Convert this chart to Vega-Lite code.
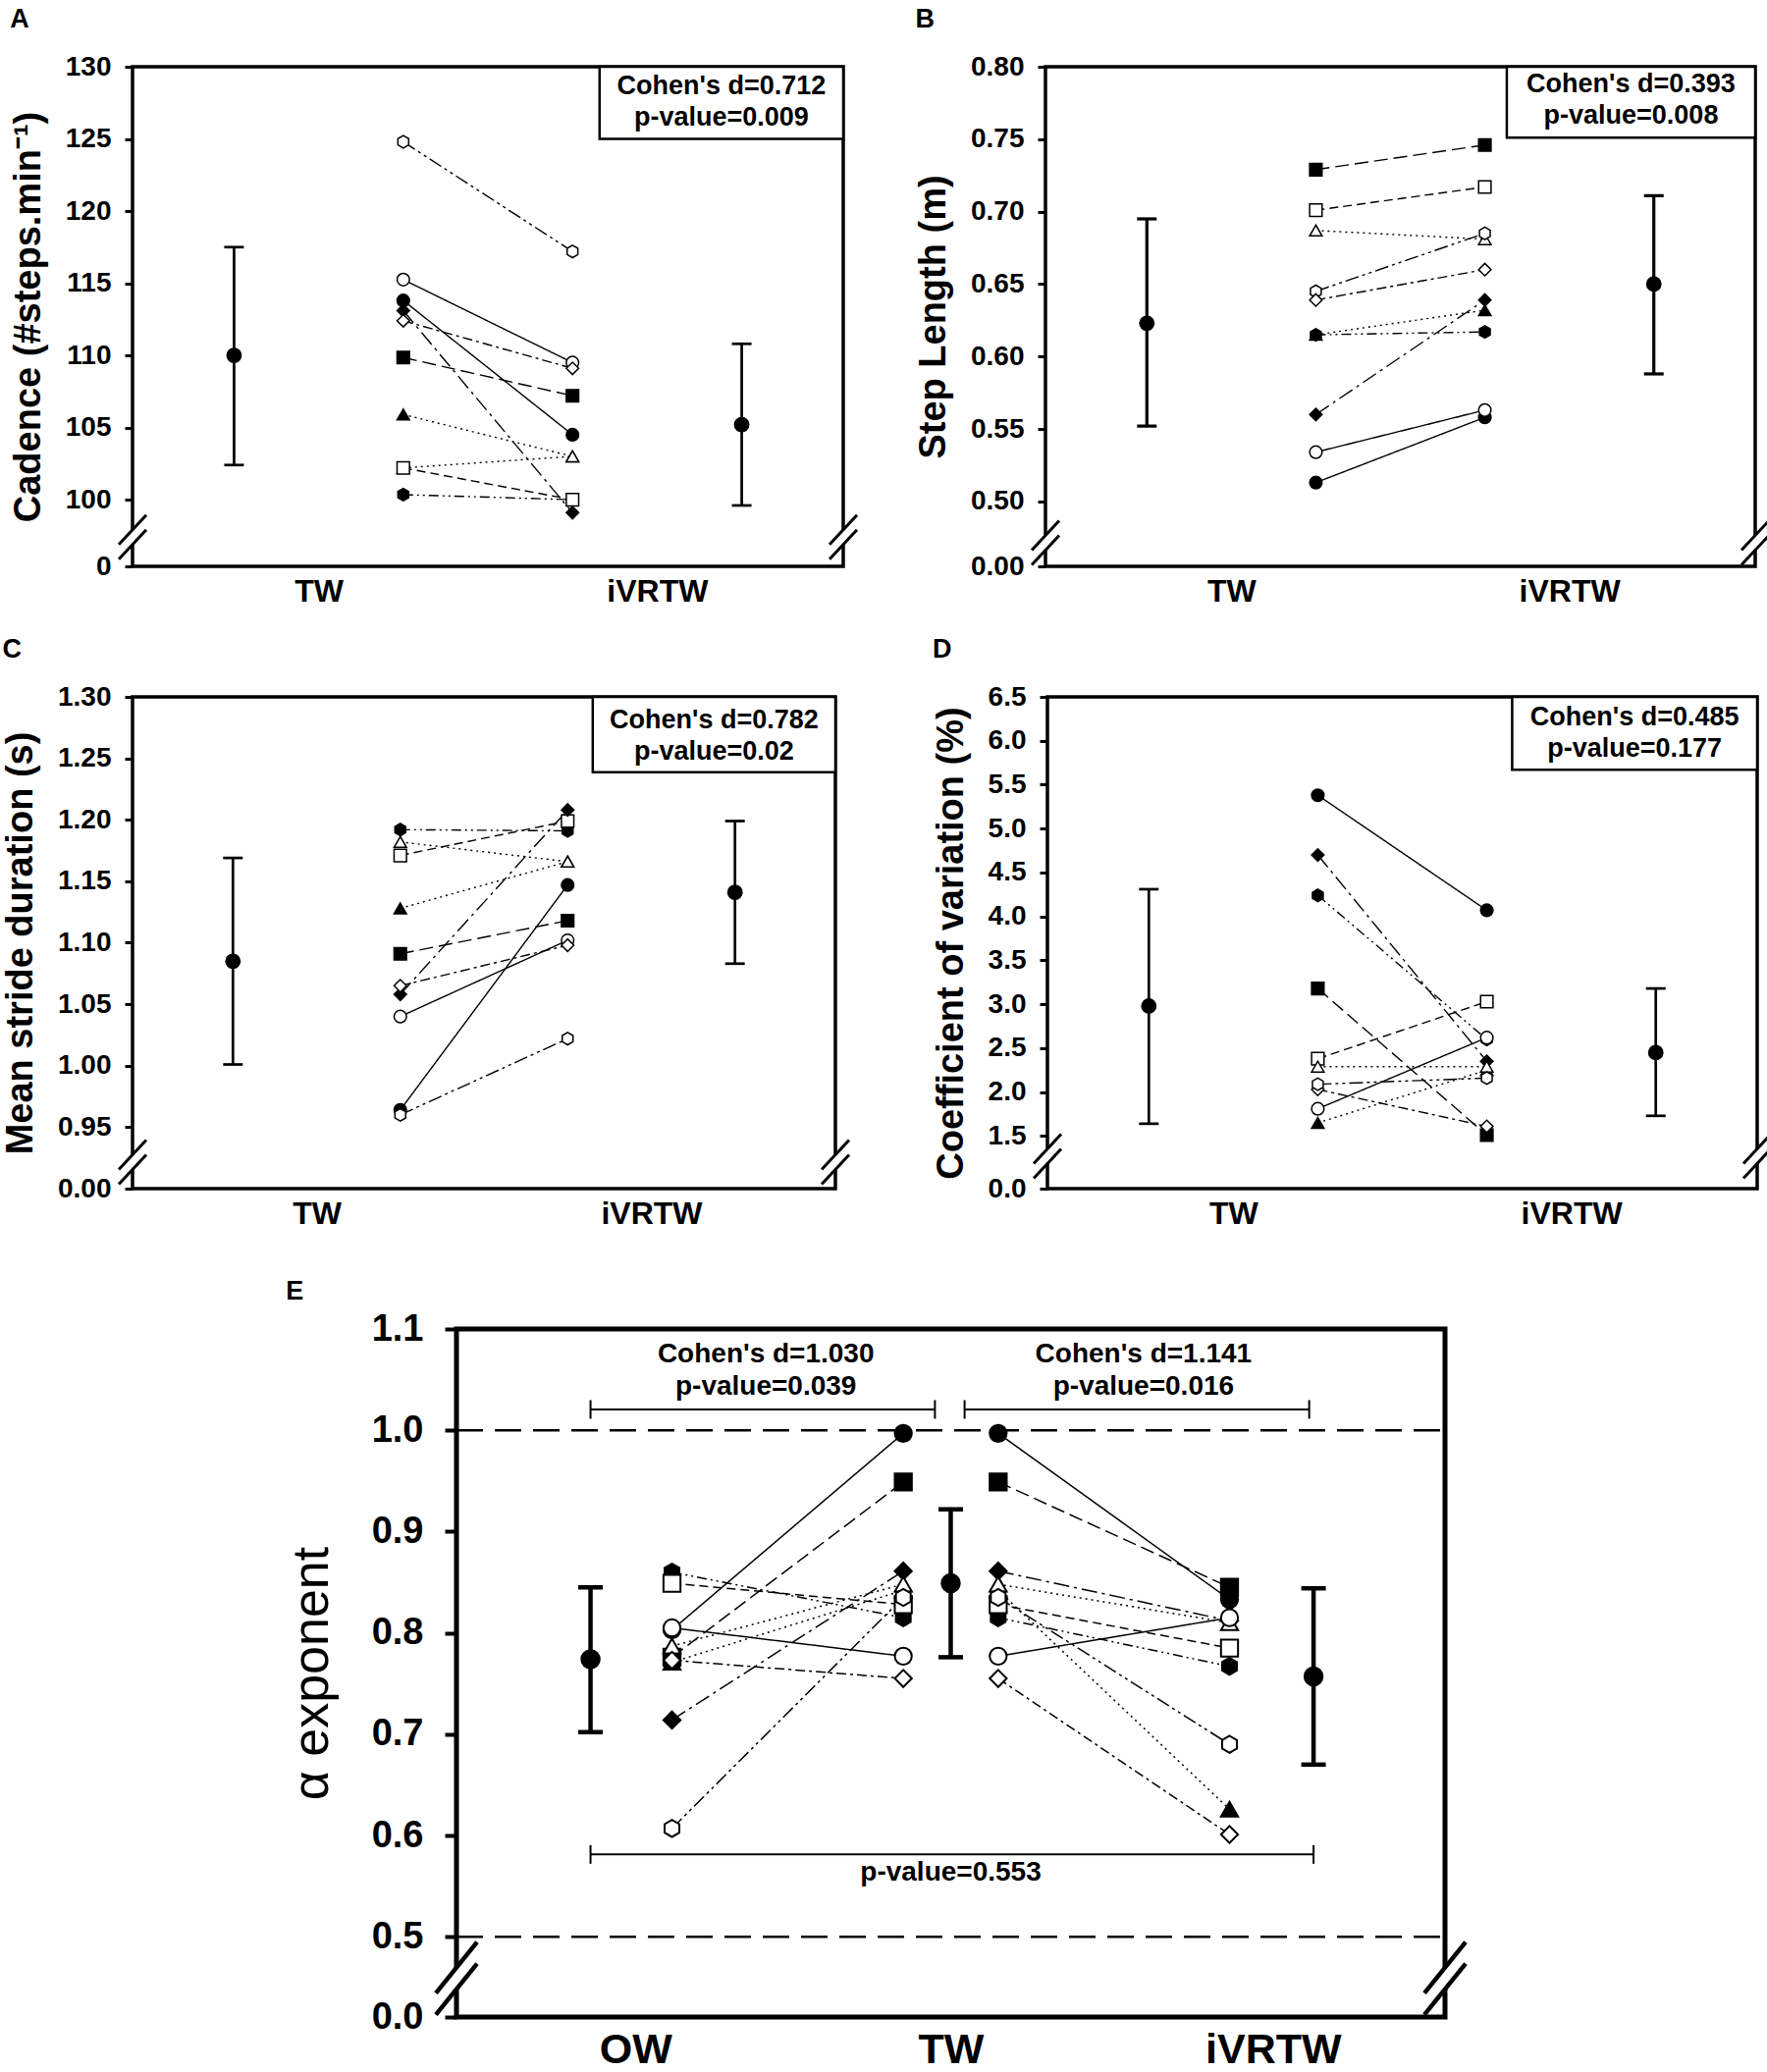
{
  "$schema": "https://vega.github.io/schema/vega-lite/v6.json",
  "padding": {"left": 0, "top": 4, "right": 0, "bottom": 0},
  "spacing": 45,
  "resolve": {"scale": {"x": "independent", "y": "independent"}},
  "vconcat": [
    {
      "spacing": 26,
      "resolve": {"scale": {"x": "independent", "y": "independent"}},
      "vconcat": [
        {
          "spacing": 53,
          "resolve": {"scale": {"x": "independent", "y": "independent"}},
          "hconcat": [
            {
              "width": 724, "height": 509,
              "title": {"text": "A", "offset": 20},
              "view": {"stroke": "black", "strokeWidth": 3.5},
              "encoding": {
                "x": {"field": "x", "type": "quantitative", "scale": {"domain": [0.4, 4.6], "nice": false, "zero": false},
                      "axis": {"values": [1.5, 3.5], "labelExpr": "datum.value < 2 ? 'TW' : 'iVRTW'", "title": null}},
                "y": {"field": "y", "type": "quantitative", "scale": {"domain": [95.38, 130], "nice": false, "zero": false},
                      "axis": {"values": [95.38, 100, 105, 110, 115, 120, 125, 130], "format": "d", "labelExpr": "datum.value < 99 ? '0' : datum.label", "title": "Cadence (#steps.min⁻¹)"}}
              },
              "layer": [
                {"data": {"name": "A_ind"}, "mark": {"type": "line", "color": "black", "strokeWidth": 1.4},
                 "encoding": {"strokeDash": {"field": "s", "type": "nominal", "scale": {"domain": ["S1","S2","S3","S4","S5","S6","S7","S8","S9","S10"], "range": [[1,0],[1,0],[14,6],[9,5],[2,4],[2,4],[16,5,3,5],[10,4,3,4],[14,4,3,4,3,4],[10,4,2,4,2,4]]}, "legend": null}}},
                {"data": {"name": "A_err"}, "mark": {"type": "rule", "color": "black", "strokeWidth": 2.7}, "encoding": {"y2": {"field": "y2"}}},
                {"data": {"name": "A_cap"}, "mark": {"type": "tick", "orient": "horizontal", "size": 20, "thickness": 2.7, "color": "black", "opacity": 1}},
                {"data": {"name": "A_mean"}, "mark": {"type": "circle", "size": 250, "color": "black", "opacity": 1}},
                {"data": {"name": "A_ind"}, "mark": {"type": "point", "filled": true, "size": 160, "stroke": "black", "strokeWidth": 1.5, "opacity": 1},
                 "encoding": {
                   "shape": {"field": "s", "type": "nominal", "scale": {"domain": ["S1","S2","S3","S4","S5","S6","S7","S8","S9","S10"], "range": ["circle","circle","square","square","triangle-up","triangle-up","diamond","diamond","M0,-1L0.866,-0.5L0.866,0.5L0,1L-0.866,0.5L-0.866,-0.5Z","M0,-1L0.866,-0.5L0.866,0.5L0,1L-0.866,0.5L-0.866,-0.5Z"]}, "legend": null},
                   "fill": {"field": "s", "type": "nominal", "scale": {"domain": ["S1","S2","S3","S4","S5","S6","S7","S8","S9","S10"], "range": ["black","white","black","white","black","white","black","white","white","black"]}, "legend": null}}},
                {"data": {"name": "A_box"}, "mark": {"type": "rect", "fill": "white", "stroke": "black", "strokeWidth": 2.5}, "encoding": {"x2": {"field": "x2"}, "y2": {"field": "y2"}}},
                {"data": {"name": "A_txt"}, "mark": {"type": "text", "fontSize": 27, "fontWeight": "bold", "color": "black"}, "encoding": {"text": {"field": "t"}}},
                {"data": {"name": "A_brk"}, "mark": {"type": "rule", "color": "white", "strokeWidth": 9, "xOffset": -10, "x2Offset": 10, "yOffset": 10.7, "y2Offset": -10.7}, "encoding": {"x2": {"field": "x"}, "y2": {"field": "y"}}},
                {"data": {"name": "A_brk"}, "mark": {"type": "rule", "color": "black", "strokeWidth": 3, "xOffset": -14, "x2Offset": 14, "yOffset": 7.5, "y2Offset": -22.5}, "encoding": {"x2": {"field": "x"}, "y2": {"field": "y"}}},
                {"data": {"name": "A_brk"}, "mark": {"type": "rule", "color": "black", "strokeWidth": 3, "xOffset": -14, "x2Offset": 14, "yOffset": 22.5, "y2Offset": -7.5}, "encoding": {"x2": {"field": "x"}, "y2": {"field": "y"}}}
              ]
            },
            {
              "width": 723, "height": 509,
              "title": {"text": "B", "offset": 20},
              "view": {"stroke": "black", "strokeWidth": 3.5},
              "encoding": {
                "x": {"field": "x", "type": "quantitative", "scale": {"domain": [0.4, 4.6], "nice": false, "zero": false},
                      "axis": {"values": [1.5, 3.5], "labelExpr": "datum.value < 2 ? 'TW' : 'iVRTW'", "title": null}},
                "y": {"field": "y", "type": "quantitative", "scale": {"domain": [0.4552, 0.8], "nice": false, "zero": false},
                      "axis": {"values": [0.4552, 0.5, 0.55, 0.6, 0.65, 0.7, 0.75, 0.8], "format": ".2f", "labelExpr": "datum.value < 0.47 ? '0.00' : datum.label", "title": "Step Length (m)"}}
              },
              "layer": [
                {"data": {"name": "B_ind"}, "mark": {"type": "line", "color": "black", "strokeWidth": 1.4},
                 "encoding": {"strokeDash": {"field": "s", "type": "nominal", "scale": {"domain": ["S1","S2","S3","S4","S5","S6","S7","S8","S9","S10"], "range": [[1,0],[1,0],[14,6],[9,5],[2,4],[2,4],[16,5,3,5],[10,4,3,4],[14,4,3,4,3,4],[10,4,2,4,2,4]]}, "legend": null}}},
                {"data": {"name": "B_err"}, "mark": {"type": "rule", "color": "black", "strokeWidth": 3.2}, "encoding": {"y2": {"field": "y2"}}},
                {"data": {"name": "B_cap"}, "mark": {"type": "tick", "orient": "horizontal", "size": 20, "thickness": 3.2, "color": "black", "opacity": 1}},
                {"data": {"name": "B_mean"}, "mark": {"type": "circle", "size": 250, "color": "black", "opacity": 1}},
                {"data": {"name": "B_ind"}, "mark": {"type": "point", "filled": true, "size": 160, "stroke": "black", "strokeWidth": 1.5, "opacity": 1},
                 "encoding": {
                   "shape": {"field": "s", "type": "nominal", "scale": {"domain": ["S1","S2","S3","S4","S5","S6","S7","S8","S9","S10"], "range": ["circle","circle","square","square","triangle-up","triangle-up","diamond","diamond","M0,-1L0.866,-0.5L0.866,0.5L0,1L-0.866,0.5L-0.866,-0.5Z","M0,-1L0.866,-0.5L0.866,0.5L0,1L-0.866,0.5L-0.866,-0.5Z"]}, "legend": null},
                   "fill": {"field": "s", "type": "nominal", "scale": {"domain": ["S1","S2","S3","S4","S5","S6","S7","S8","S9","S10"], "range": ["black","white","black","white","black","white","black","white","white","black"]}, "legend": null}}},
                {"data": {"name": "B_box"}, "mark": {"type": "rect", "fill": "white", "stroke": "black", "strokeWidth": 2.5}, "encoding": {"x2": {"field": "x2"}, "y2": {"field": "y2"}}},
                {"data": {"name": "B_txt"}, "mark": {"type": "text", "fontSize": 27, "fontWeight": "bold", "color": "black"}, "encoding": {"text": {"field": "t"}}},
                {"data": {"name": "B_brk"}, "mark": {"type": "rule", "color": "white", "strokeWidth": 9, "xOffset": -10, "x2Offset": 10, "yOffset": 10.7, "y2Offset": -10.7}, "encoding": {"x2": {"field": "x"}, "y2": {"field": "y"}}},
                {"data": {"name": "B_brk"}, "mark": {"type": "rule", "color": "black", "strokeWidth": 3, "xOffset": -14, "x2Offset": 14, "yOffset": 7.5, "y2Offset": -22.5}, "encoding": {"x2": {"field": "x"}, "y2": {"field": "y"}}},
                {"data": {"name": "B_brk"}, "mark": {"type": "rule", "color": "black", "strokeWidth": 3, "xOffset": -14, "x2Offset": 14, "yOffset": 22.5, "y2Offset": -7.5}, "encoding": {"x2": {"field": "x"}, "y2": {"field": "y"}}}
              ]
            }
          ]
        },
        {
          "spacing": 79,
          "resolve": {"scale": {"x": "independent", "y": "independent"}},
          "hconcat": [
            {
              "width": 716, "height": 501,
              "title": {"text": "C", "offset": 20},
              "view": {"stroke": "black", "strokeWidth": 3.5},
              "encoding": {
                "x": {"field": "x", "type": "quantitative", "scale": {"domain": [0.4, 4.6], "nice": false, "zero": false},
                      "axis": {"values": [1.5, 3.5], "labelExpr": "datum.value < 2 ? 'TW' : 'iVRTW'", "title": null}},
                "y": {"field": "y", "type": "quantitative", "scale": {"domain": [0.9, 1.3], "nice": false, "zero": false},
                      "axis": {"values": [0.9, 0.95, 1.0, 1.05, 1.1, 1.15, 1.2, 1.25, 1.3], "format": ".2f", "labelExpr": "datum.value < 0.92 ? '0.00' : datum.label", "title": "Mean stride duration (s)"}}
              },
              "layer": [
                {"data": {"name": "C_ind"}, "mark": {"type": "line", "color": "black", "strokeWidth": 1.4},
                 "encoding": {"strokeDash": {"field": "s", "type": "nominal", "scale": {"domain": ["S1","S2","S3","S4","S5","S6","S7","S8","S9","S10"], "range": [[1,0],[1,0],[14,6],[9,5],[2,4],[2,4],[16,5,3,5],[10,4,3,4],[14,4,3,4,3,4],[10,4,2,4,2,4]]}, "legend": null}}},
                {"data": {"name": "C_err"}, "mark": {"type": "rule", "color": "black", "strokeWidth": 2.7}, "encoding": {"y2": {"field": "y2"}}},
                {"data": {"name": "C_cap"}, "mark": {"type": "tick", "orient": "horizontal", "size": 20, "thickness": 2.7, "color": "black", "opacity": 1}},
                {"data": {"name": "C_mean"}, "mark": {"type": "circle", "size": 250, "color": "black", "opacity": 1}},
                {"data": {"name": "C_ind"}, "mark": {"type": "point", "filled": true, "size": 160, "stroke": "black", "strokeWidth": 1.5, "opacity": 1},
                 "encoding": {
                   "shape": {"field": "s", "type": "nominal", "scale": {"domain": ["S1","S2","S3","S4","S5","S6","S7","S8","S9","S10"], "range": ["circle","circle","square","square","triangle-up","triangle-up","diamond","diamond","M0,-1L0.866,-0.5L0.866,0.5L0,1L-0.866,0.5L-0.866,-0.5Z","M0,-1L0.866,-0.5L0.866,0.5L0,1L-0.866,0.5L-0.866,-0.5Z"]}, "legend": null},
                   "fill": {"field": "s", "type": "nominal", "scale": {"domain": ["S1","S2","S3","S4","S5","S6","S7","S8","S9","S10"], "range": ["black","white","black","white","black","white","black","white","white","black"]}, "legend": null}}},
                {"data": {"name": "C_box"}, "mark": {"type": "rect", "fill": "white", "stroke": "black", "strokeWidth": 2.5}, "encoding": {"x2": {"field": "x2"}, "y2": {"field": "y2"}}},
                {"data": {"name": "C_txt"}, "mark": {"type": "text", "fontSize": 27, "fontWeight": "bold", "color": "black"}, "encoding": {"text": {"field": "t"}}},
                {"data": {"name": "C_brk"}, "mark": {"type": "rule", "color": "white", "strokeWidth": 9, "xOffset": -10, "x2Offset": 10, "yOffset": 10.7, "y2Offset": -10.7}, "encoding": {"x2": {"field": "x"}, "y2": {"field": "y"}}},
                {"data": {"name": "C_brk"}, "mark": {"type": "rule", "color": "black", "strokeWidth": 3, "xOffset": -14, "x2Offset": 14, "yOffset": 7.5, "y2Offset": -22.5}, "encoding": {"x2": {"field": "x"}, "y2": {"field": "y"}}},
                {"data": {"name": "C_brk"}, "mark": {"type": "rule", "color": "black", "strokeWidth": 3, "xOffset": -14, "x2Offset": 14, "yOffset": 22.5, "y2Offset": -7.5}, "encoding": {"x2": {"field": "x"}, "y2": {"field": "y"}}}
              ]
            },
            {
              "width": 723, "height": 501,
              "title": {"text": "D", "offset": 20},
              "view": {"stroke": "black", "strokeWidth": 3.5},
              "encoding": {
                "x": {"field": "x", "type": "quantitative", "scale": {"domain": [0.4, 4.6], "nice": false, "zero": false},
                      "axis": {"values": [1.5, 3.5], "labelExpr": "datum.value < 2 ? 'TW' : 'iVRTW'", "title": null}},
                "y": {"field": "y", "type": "quantitative", "scale": {"domain": [0.901, 6.5], "nice": false, "zero": false},
                      "axis": {"values": [0.901, 1.5, 2.0, 2.5, 3.0, 3.5, 4.0, 4.5, 5.0, 5.5, 6.0, 6.5], "format": ".1f", "labelExpr": "datum.value < 1 ? '0.0' : datum.label", "title": "Coefficient of variation (%)"}}
              },
              "layer": [
                {"data": {"name": "D_ind"}, "mark": {"type": "line", "color": "black", "strokeWidth": 1.4},
                 "encoding": {"strokeDash": {"field": "s", "type": "nominal", "scale": {"domain": ["S1","S2","S3","S4","S5","S6","S7","S8","S9","S10"], "range": [[1,0],[1,0],[14,6],[9,5],[2,4],[2,4],[16,5,3,5],[10,4,3,4],[14,4,3,4,3,4],[10,4,2,4,2,4]]}, "legend": null}}},
                {"data": {"name": "D_err"}, "mark": {"type": "rule", "color": "black", "strokeWidth": 2.7}, "encoding": {"y2": {"field": "y2"}}},
                {"data": {"name": "D_cap"}, "mark": {"type": "tick", "orient": "horizontal", "size": 20, "thickness": 2.7, "color": "black", "opacity": 1}},
                {"data": {"name": "D_mean"}, "mark": {"type": "circle", "size": 250, "color": "black", "opacity": 1}},
                {"data": {"name": "D_ind"}, "mark": {"type": "point", "filled": true, "size": 160, "stroke": "black", "strokeWidth": 1.5, "opacity": 1},
                 "encoding": {
                   "shape": {"field": "s", "type": "nominal", "scale": {"domain": ["S1","S2","S3","S4","S5","S6","S7","S8","S9","S10"], "range": ["circle","circle","square","square","triangle-up","triangle-up","diamond","diamond","M0,-1L0.866,-0.5L0.866,0.5L0,1L-0.866,0.5L-0.866,-0.5Z","M0,-1L0.866,-0.5L0.866,0.5L0,1L-0.866,0.5L-0.866,-0.5Z"]}, "legend": null},
                   "fill": {"field": "s", "type": "nominal", "scale": {"domain": ["S1","S2","S3","S4","S5","S6","S7","S8","S9","S10"], "range": ["black","white","black","white","black","white","black","white","white","black"]}, "legend": null}}},
                {"data": {"name": "D_box"}, "mark": {"type": "rect", "fill": "white", "stroke": "black", "strokeWidth": 2.5}, "encoding": {"x2": {"field": "x2"}, "y2": {"field": "y2"}}},
                {"data": {"name": "D_txt"}, "mark": {"type": "text", "fontSize": 27, "fontWeight": "bold", "color": "black"}, "encoding": {"text": {"field": "t"}}},
                {"data": {"name": "D_brk"}, "mark": {"type": "rule", "color": "white", "strokeWidth": 9, "xOffset": -10, "x2Offset": 10, "yOffset": 10.7, "y2Offset": -10.7}, "encoding": {"x2": {"field": "x"}, "y2": {"field": "y"}}},
                {"data": {"name": "D_brk"}, "mark": {"type": "rule", "color": "black", "strokeWidth": 3, "xOffset": -14, "x2Offset": 14, "yOffset": 7.5, "y2Offset": -22.5}, "encoding": {"x2": {"field": "x"}, "y2": {"field": "y"}}},
                {"data": {"name": "D_brk"}, "mark": {"type": "rule", "color": "black", "strokeWidth": 3, "xOffset": -14, "x2Offset": 14, "yOffset": 22.5, "y2Offset": -7.5}, "encoding": {"x2": {"field": "x"}, "y2": {"field": "y"}}}
              ]
            }
          ]
        }
      ]
    },
    {
      "spacing": 0,
      "resolve": {"scale": {"x": "independent", "y": "independent"}},
      "hconcat": [
        {
          "width": 153, "height": 10,
          "data": {"values": [{"a": 1}]},
          "mark": {"type": "text", "text": ""},
          "encoding": {},
          "view": {"stroke": null}
        },
        {
          "width": 1007, "height": 701,
          "title": {"text": "E", "offset": 5},
          "view": {"stroke": "black", "strokeWidth": 5},
          "encoding": {
            "x": {"field": "x", "type": "quantitative", "scale": {"domain": [0, 1], "nice": false, "zero": false},
                  "axis": {"values": [0.181, 0.5, 0.826], "labelExpr": "datum.value < 0.3 ? 'OW' : datum.value < 0.7 ? 'TW' : 'iVRTW'", "title": null, "labelFontSize": 43, "labelPadding": 12}},
            "y": {"field": "y", "type": "quantitative", "scale": {"domain": [0.4208, 1.1], "nice": false, "zero": false},
                  "axis": {"values": [0.4208, 0.5, 0.6, 0.7, 0.8, 0.9, 1.0, 1.1], "format": ".1f", "labelExpr": "datum.value < 0.45 ? '0.0' : datum.label", "title": "α exponent", "labelFontSize": 38, "tickSize": 12, "tickWidth": 4, "labelPadding": 22, "titleFontSize": 52, "titleFontWeight": "normal", "titlePadding": 34}}
          },
          "layer": [
            {"data": {"name": "E_ref"}, "mark": {"type": "rule", "color": "black", "strokeWidth": 2.5, "strokeDash": [27, 12]}, "encoding": {"x2": {"field": "x2"}}},
            {"data": {"name": "E_ind"}, "mark": {"type": "line", "color": "black", "strokeWidth": 1.5},
             "encoding": {
               "detail": {"field": "g"},
               "strokeDash": {"field": "s", "type": "nominal", "scale": {"domain": ["S1","S2","S3","S4","S5","S6","S7","S8","S9","S10"], "range": [[1,0],[1,0],[16,7],[10,6],[2,5],[2,5],[18,6,3,6],[12,5,3,5],[16,5,3,5,3,5],[12,5,2,5,2,5]]}, "legend": null}}},
            {"data": {"name": "E_br"}, "mark": {"type": "rule", "color": "black", "strokeWidth": 2}, "encoding": {"x2": {"field": "x2"}}},
            {"data": {"name": "E_brt"}, "mark": {"type": "tick", "orient": "vertical", "size": 19, "thickness": 2, "color": "black", "opacity": 1}},
            {"data": {"name": "E_err"}, "mark": {"type": "rule", "color": "black", "strokeWidth": 4.5}, "encoding": {"y2": {"field": "y2"}}},
            {"data": {"name": "E_cap"}, "mark": {"type": "tick", "orient": "horizontal", "size": 25, "thickness": 4.5, "color": "black", "opacity": 1}},
            {"data": {"name": "E_mean"}, "mark": {"type": "circle", "size": 420, "color": "black", "opacity": 1}},
            {"data": {"name": "E_ind"}, "mark": {"type": "point", "filled": true, "size": 300, "stroke": "black", "strokeWidth": 2, "opacity": 1},
             "encoding": {
               "shape": {"field": "s", "type": "nominal", "scale": {"domain": ["S1","S2","S3","S4","S5","S6","S7","S8","S9","S10"], "range": ["circle","circle","square","square","triangle-up","triangle-up","diamond","diamond","M0,-1L0.866,-0.5L0.866,0.5L0,1L-0.866,0.5L-0.866,-0.5Z","M0,-1L0.866,-0.5L0.866,0.5L0,1L-0.866,0.5L-0.866,-0.5Z"]}, "legend": null},
               "fill": {"field": "s", "type": "nominal", "scale": {"domain": ["S1","S2","S3","S4","S5","S6","S7","S8","S9","S10"], "range": ["black","white","black","white","black","white","black","white","white","black"]}, "legend": null}}},
            {"data": {"name": "E_txt"}, "mark": {"type": "text", "fontSize": 28, "fontWeight": "bold", "color": "black"}, "encoding": {"text": {"field": "t"}}},
            {"data": {"name": "E_brk"}, "mark": {"type": "rule", "color": "white", "strokeWidth": 12, "xOffset": -14, "x2Offset": 14, "yOffset": 17, "y2Offset": -17}, "encoding": {"x2": {"field": "x"}, "y2": {"field": "y"}}},
            {"data": {"name": "E_brk"}, "mark": {"type": "rule", "color": "black", "strokeWidth": 4.5, "xOffset": -21, "x2Offset": 21, "yOffset": 15, "y2Offset": -37}, "encoding": {"x2": {"field": "x"}, "y2": {"field": "y"}}},
            {"data": {"name": "E_brk"}, "mark": {"type": "rule", "color": "black", "strokeWidth": 4.5, "xOffset": -21, "x2Offset": 21, "yOffset": 37, "y2Offset": -15}, "encoding": {"x2": {"field": "x"}, "y2": {"field": "y"}}}
          ]
        }
      ]
    }
  ],
  "datasets": {
    "A_ind": [
      {"s": "S10", "x": 2, "y": 100.35}, {"s": "S10", "x": 3, "y": 100.0},
      {"s": "S1", "x": 2, "y": 113.8}, {"s": "S1", "x": 3, "y": 104.5},
      {"s": "S2", "x": 2, "y": 115.25}, {"s": "S2", "x": 3, "y": 109.5},
      {"s": "S3", "x": 2, "y": 109.85}, {"s": "S3", "x": 3, "y": 107.2},
      {"s": "S5", "x": 2, "y": 105.9}, {"s": "S5", "x": 3, "y": 103.0},
      {"s": "S6", "x": 2, "y": 102.2}, {"s": "S6", "x": 3, "y": 103.0},
      {"s": "S4", "x": 2, "y": 102.2}, {"s": "S4", "x": 3, "y": 100.0},
      {"s": "S7", "x": 2, "y": 113.1}, {"s": "S7", "x": 3, "y": 99.1},
      {"s": "S8", "x": 2, "y": 112.4}, {"s": "S8", "x": 3, "y": 109.1},
      {"s": "S9", "x": 2, "y": 124.8}, {"s": "S9", "x": 3, "y": 117.2}
    ],
    "A_err": [{"x": 1, "y": 102.4, "y2": 117.5}, {"x": 4, "y": 99.6, "y2": 110.8}],
    "A_cap": [{"x": 1, "y": 102.4}, {"x": 1, "y": 117.5}, {"x": 4, "y": 99.6}, {"x": 4, "y": 110.8}],
    "A_mean": [{"x": 1, "y": 110.0}, {"x": 4, "y": 105.2}],
    "A_box": [{"x": 3.16, "x2": 4.6, "y": 125.0, "y2": 130.0}],
    "A_txt": [{"x": 3.88, "y": 128.65, "t": "Cohen's d=0.712"}, {"x": 3.88, "y": 126.45, "t": "p-value=0.009"}],
    "A_brk": [{"x": 0.4, "y": 97.4}, {"x": 4.6, "y": 97.4}],
    "B_ind": [
      {"s": "S10", "x": 2, "y": 0.615}, {"s": "S10", "x": 3, "y": 0.617},
      {"s": "S5", "x": 2, "y": 0.615}, {"s": "S5", "x": 3, "y": 0.632},
      {"s": "S1", "x": 2, "y": 0.513}, {"s": "S1", "x": 3, "y": 0.558},
      {"s": "S2", "x": 2, "y": 0.534}, {"s": "S2", "x": 3, "y": 0.563},
      {"s": "S3", "x": 2, "y": 0.729}, {"s": "S3", "x": 3, "y": 0.746},
      {"s": "S4", "x": 2, "y": 0.701}, {"s": "S4", "x": 3, "y": 0.717},
      {"s": "S6", "x": 2, "y": 0.687}, {"s": "S6", "x": 3, "y": 0.681},
      {"s": "S9", "x": 2, "y": 0.645}, {"s": "S9", "x": 3, "y": 0.685},
      {"s": "S8", "x": 2, "y": 0.639}, {"s": "S8", "x": 3, "y": 0.66},
      {"s": "S7", "x": 2, "y": 0.56}, {"s": "S7", "x": 3, "y": 0.639}
    ],
    "B_err": [{"x": 1, "y": 0.552, "y2": 0.695}, {"x": 4, "y": 0.588, "y2": 0.711}],
    "B_cap": [{"x": 1, "y": 0.552}, {"x": 1, "y": 0.695}, {"x": 4, "y": 0.588}, {"x": 4, "y": 0.711}],
    "B_mean": [{"x": 1, "y": 0.623}, {"x": 4, "y": 0.65}],
    "B_box": [{"x": 3.13, "x2": 4.6, "y": 0.751, "y2": 0.8}],
    "B_txt": [{"x": 3.865, "y": 0.788, "t": "Cohen's d=0.393"}, {"x": 3.865, "y": 0.766, "t": "p-value=0.008"}],
    "B_brk": [{"x": 0.4, "y": 0.4715}, {"x": 4.6, "y": 0.4715}],
    "C_ind": [
      {"s": "S10", "x": 2, "y": 1.192}, {"s": "S10", "x": 3, "y": 1.191},
      {"s": "S1", "x": 2, "y": 0.964}, {"s": "S1", "x": 3, "y": 1.147},
      {"s": "S9", "x": 2, "y": 0.96}, {"s": "S9", "x": 3, "y": 1.022},
      {"s": "S2", "x": 2, "y": 1.04}, {"s": "S2", "x": 3, "y": 1.102},
      {"s": "S3", "x": 2, "y": 1.091}, {"s": "S3", "x": 3, "y": 1.118},
      {"s": "S4", "x": 2, "y": 1.171}, {"s": "S4", "x": 3, "y": 1.199},
      {"s": "S5", "x": 2, "y": 1.128}, {"s": "S5", "x": 3, "y": 1.166},
      {"s": "S6", "x": 2, "y": 1.182}, {"s": "S6", "x": 3, "y": 1.166},
      {"s": "S7", "x": 2, "y": 1.058}, {"s": "S7", "x": 3, "y": 1.208},
      {"s": "S8", "x": 2, "y": 1.065}, {"s": "S8", "x": 3, "y": 1.098}
    ],
    "C_err": [{"x": 1, "y": 1.001, "y2": 1.169}, {"x": 4, "y": 1.083, "y2": 1.199}],
    "C_cap": [{"x": 1, "y": 1.001}, {"x": 1, "y": 1.169}, {"x": 4, "y": 1.083}, {"x": 4, "y": 1.199}],
    "C_mean": [{"x": 1, "y": 1.085}, {"x": 4, "y": 1.141}],
    "C_box": [{"x": 3.15, "x2": 4.6, "y": 1.2387, "y2": 1.3}],
    "C_txt": [{"x": 3.875, "y": 1.281, "t": "Cohen's d=0.782"}, {"x": 3.875, "y": 1.2555, "t": "p-value=0.02"}],
    "C_brk": [{"x": 0.4, "y": 0.9216}, {"x": 4.6, "y": 0.9216}],
    "D_ind": [
      {"s": "S7", "x": 2, "y": 4.7}, {"s": "S7", "x": 3, "y": 2.35},
      {"s": "S10", "x": 2, "y": 4.24}, {"s": "S10", "x": 3, "y": 2.6},
      {"s": "S1", "x": 2, "y": 5.38}, {"s": "S1", "x": 3, "y": 4.07},
      {"s": "S2", "x": 2, "y": 1.81}, {"s": "S2", "x": 3, "y": 2.62},
      {"s": "S3", "x": 2, "y": 3.18}, {"s": "S3", "x": 3, "y": 1.51},
      {"s": "S4", "x": 2, "y": 2.38}, {"s": "S4", "x": 3, "y": 3.03},
      {"s": "S5", "x": 2, "y": 1.65}, {"s": "S5", "x": 3, "y": 2.25},
      {"s": "S6", "x": 2, "y": 2.29}, {"s": "S6", "x": 3, "y": 2.29},
      {"s": "S8", "x": 2, "y": 2.03}, {"s": "S8", "x": 3, "y": 1.61},
      {"s": "S9", "x": 2, "y": 2.09}, {"s": "S9", "x": 3, "y": 2.16}
    ],
    "D_err": [{"x": 1, "y": 1.64, "y2": 4.31}, {"x": 4, "y": 1.73, "y2": 3.18}],
    "D_cap": [{"x": 1, "y": 1.64}, {"x": 1, "y": 4.31}, {"x": 4, "y": 1.73}, {"x": 4, "y": 3.18}],
    "D_mean": [{"x": 1, "y": 2.98}, {"x": 4, "y": 2.45}],
    "D_box": [{"x": 3.15, "x2": 4.6, "y": 5.67, "y2": 6.5}],
    "D_txt": [{"x": 3.875, "y": 6.26, "t": "Cohen's d=0.485"}, {"x": 3.875, "y": 5.91, "t": "p-value=0.177"}],
    "D_brk": [{"x": 0.4, "y": 1.27}, {"x": 4.6, "y": 1.27}],
    "E_ref": [{"x": 0, "x2": 1, "y": 1.0}, {"x": 0, "x2": 1, "y": 0.5}],
    "E_ind": [
      {"s": "S1", "g": "L", "x": 0.218, "y": 0.803}, {"s": "S1", "g": "L", "x": 0.452, "y": 0.997}, {"s": "S1", "g": "R", "x": 0.548, "y": 0.997}, {"s": "S1", "g": "R", "x": 0.782, "y": 0.833},
      {"s": "S3", "g": "L", "x": 0.218, "y": 0.776}, {"s": "S3", "g": "L", "x": 0.452, "y": 0.949}, {"s": "S3", "g": "R", "x": 0.548, "y": 0.949}, {"s": "S3", "g": "R", "x": 0.782, "y": 0.845},
      {"s": "S5", "g": "L", "x": 0.218, "y": 0.771}, {"s": "S5", "g": "L", "x": 0.452, "y": 0.842}, {"s": "S5", "g": "R", "x": 0.548, "y": 0.842}, {"s": "S5", "g": "R", "x": 0.782, "y": 0.626},
      {"s": "S10", "g": "L", "x": 0.218, "y": 0.86}, {"s": "S10", "g": "L", "x": 0.452, "y": 0.815}, {"s": "S10", "g": "R", "x": 0.548, "y": 0.815}, {"s": "S10", "g": "R", "x": 0.782, "y": 0.767},
      {"s": "S7", "g": "L", "x": 0.218, "y": 0.714}, {"s": "S7", "g": "L", "x": 0.452, "y": 0.861}, {"s": "S7", "g": "R", "x": 0.548, "y": 0.861}, {"s": "S7", "g": "R", "x": 0.782, "y": 0.812},
      {"s": "S4", "g": "L", "x": 0.218, "y": 0.849}, {"s": "S4", "g": "L", "x": 0.452, "y": 0.828}, {"s": "S4", "g": "R", "x": 0.548, "y": 0.828}, {"s": "S4", "g": "R", "x": 0.782, "y": 0.785},
      {"s": "S6", "g": "L", "x": 0.218, "y": 0.787}, {"s": "S6", "g": "L", "x": 0.452, "y": 0.848}, {"s": "S6", "g": "R", "x": 0.548, "y": 0.848}, {"s": "S6", "g": "R", "x": 0.782, "y": 0.81},
      {"s": "S9", "g": "L", "x": 0.218, "y": 0.607}, {"s": "S9", "g": "L", "x": 0.452, "y": 0.835}, {"s": "S9", "g": "R", "x": 0.548, "y": 0.835}, {"s": "S9", "g": "R", "x": 0.782, "y": 0.69},
      {"s": "S2", "g": "L", "x": 0.218, "y": 0.805}, {"s": "S2", "g": "L", "x": 0.452, "y": 0.777}, {"s": "S2", "g": "R", "x": 0.548, "y": 0.777}, {"s": "S2", "g": "R", "x": 0.782, "y": 0.815},
      {"s": "S8", "g": "L", "x": 0.218, "y": 0.773}, {"s": "S8", "g": "L", "x": 0.452, "y": 0.755}, {"s": "S8", "g": "R", "x": 0.548, "y": 0.755}, {"s": "S8", "g": "R", "x": 0.782, "y": 0.601}
    ],
    "E_err": [{"x": 0.1356, "y": 0.702, "y2": 0.845}, {"x": 0.5, "y": 0.776, "y2": 0.922}, {"x": 0.867, "y": 0.67, "y2": 0.844}],
    "E_cap": [{"x": 0.1356, "y": 0.702}, {"x": 0.1356, "y": 0.845}, {"x": 0.5, "y": 0.776}, {"x": 0.5, "y": 0.922}, {"x": 0.867, "y": 0.67}, {"x": 0.867, "y": 0.844}],
    "E_mean": [{"x": 0.1356, "y": 0.774}, {"x": 0.5, "y": 0.849}, {"x": 0.867, "y": 0.757}],
    "E_br": [{"x": 0.1356, "x2": 0.484, "y": 1.0206}, {"x": 0.514, "x2": 0.8626, "y": 1.0206}, {"x": 0.1356, "x2": 0.867, "y": 0.5813}],
    "E_brt": [{"x": 0.1356, "y": 1.0206}, {"x": 0.484, "y": 1.0206}, {"x": 0.514, "y": 1.0206}, {"x": 0.8626, "y": 1.0206}, {"x": 0.1356, "y": 0.5813}, {"x": 0.867, "y": 0.5813}],
    "E_txt": [
      {"x": 0.313, "y": 1.075, "t": "Cohen's d=1.030"}, {"x": 0.313, "y": 1.043, "t": "p-value=0.039"},
      {"x": 0.695, "y": 1.075, "t": "Cohen's d=1.141"}, {"x": 0.695, "y": 1.043, "t": "p-value=0.016"},
      {"x": 0.5, "y": 0.5636, "t": "p-value=0.553"}
    ],
    "E_brk": [{"x": 0, "y": 0.459}, {"x": 1, "y": 0.459}]
  },
  "config": {
    "font": "Liberation Sans",
    "view": {"stroke": "black"},
    "title": {"fontSize": 27, "fontWeight": "bold", "anchor": "start", "color": "black", "font": "Liberation Sans"},
    "axis": {"domain": false, "grid": false, "labelColor": "black", "titleColor": "black", "tickColor": "black", "labelFontWeight": "bold", "titleFontWeight": "bold", "labelFont": "Liberation Sans", "titleFont": "Liberation Sans", "labelOverlap": false, "labelFlush": false, "labelBound": false},
    "axisX": {"ticks": false, "tickSize": 0, "labelFontSize": 32, "labelPadding": 10},
    "axisY": {"tickSize": 8, "tickWidth": 3, "labelFontSize": 28, "labelPadding": 14, "titleFontSize": 38, "titlePadding": 18}
  }
}
